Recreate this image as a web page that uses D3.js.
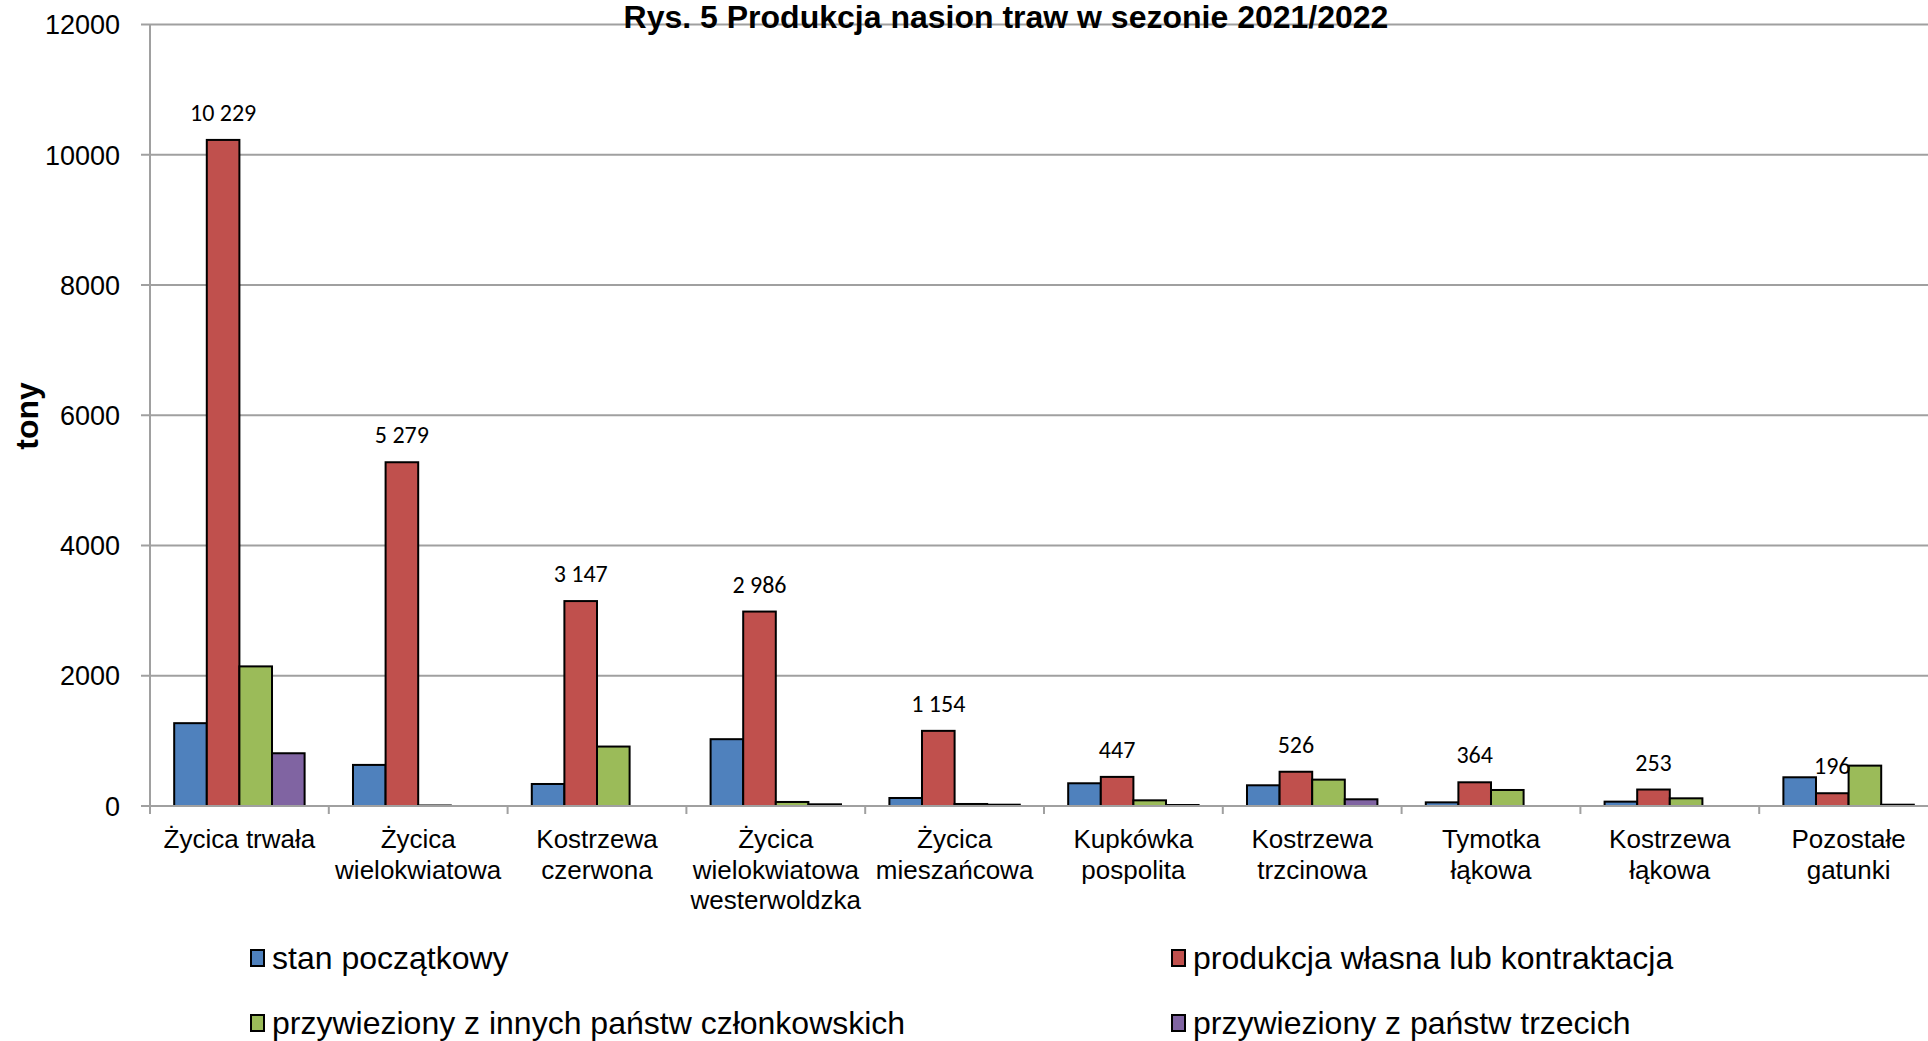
<!DOCTYPE html>
<html><head><meta charset="utf-8">
<script src="https://cdn.jsdelivr.net/npm/d3@7"></script>
<style>body{margin:0;background:#fff}svg{display:block}</style>
</head><body>
<svg id="c" width="1928" height="1041"></svg>
<script>
const categories = [
  ["Życica trwała"],
  ["Życica", "wielokwiatowa"],
  ["Kostrzewa", "czerwona"],
  ["Życica", "wielokwiatowa", "westerwoldzka"],
  ["Życica", "mieszańcowa"],
  ["Kupkówka", "pospolita"],
  ["Kostrzewa", "trzcinowa"],
  ["Tymotka", "łąkowa"],
  ["Kostrzewa", "łąkowa"],
  ["Pozostałe", "gatunki"]
];
const seriesNames = [
  "stan początkowy",
  "produkcja własna lub kontraktacja",
  "przywieziony z innych państw członkowskich",
  "przywieziony z państw trzecich"
];
const stanPoczatkowy = [1272, 631, 338, 1026, 123, 349, 318, 56, 67, 441];
const produkcjaWlasna = [10229, 5279, 3147, 2986, 1154, 447, 526, 364, 253, 196];
const zInnychPanstw = [2144, 8, 913, 62, 31, 87, 405, 246, 118, 620];
const zPanstwTrzecich = [810, 0, 0, 26, 20, 15, 103, 0, 0, 20];
const yTicks = [0, 2000, 4000, 6000, 8000, 10000, 12000];
const colors = ["#4F81BD", "#C0504D", "#9BBB59", "#8064A2"];
const title = "Rys. 5 Produkcja nasion traw w sezonie 2021/2022";
const yTitle = "tony";

const series = [stanPoczatkowy, produkcjaWlasna, zInnychPanstw, zPanstwTrzecich];
const svg = d3.select("#c");
const pLeft = 150, pRight = 1938, pTop = 24.6, pBottom = 806;

const x0 = d3.scaleBand().domain(d3.range(categories.length)).range([pLeft, pRight]).padding(0);
const x1 = d3.scaleBand().domain(d3.range(4)).range([0, x0.bandwidth()]).paddingInner(0).paddingOuter(0.742);
const y = d3.scaleLinear().domain([0, 12000]).range([pBottom, pTop]);

// gridlines
svg.append("g").selectAll("line").data(yTicks).join("line")
  .attr("x1", pLeft - 9).attr("x2", 1928)
  .attr("y1", d => y(d)).attr("y2", d => y(d))
  .attr("stroke", "#a0a0a0").attr("stroke-width", 2);

// y tick labels
svg.append("g").selectAll("text").data(yTicks).join("text")
  .attr("x", 120).attr("y", d => y(d)).attr("dy", "0.36em")
  .attr("text-anchor", "end")
  .attr("font-family", "Arial, 'Liberation Sans', sans-serif").attr("font-size", 27)
  .text(d => d);

// y axis line
svg.append("line").attr("x1", pLeft).attr("x2", pLeft).attr("y1", pTop).attr("y2", pBottom + 8)
  .attr("stroke", "#a0a0a0").attr("stroke-width", 2);

// x ticks
svg.append("g").selectAll("line").data(d3.range(categories.length + 1)).join("line")
  .attr("x1", d => pLeft + d * x0.step()).attr("x2", d => pLeft + d * x0.step())
  .attr("y1", pBottom).attr("y2", pBottom + 8)
  .attr("stroke", "#a0a0a0").attr("stroke-width", 2);

// bars
const groups = svg.append("g").selectAll("g").data(categories).join("g")
  .attr("transform", (d, i) => `translate(${x0(i)},0)`);
groups.each(function(c, i) {
  const g = d3.select(this);
  series.forEach((s, k) => {
    const v = s[i];
    if (v <= 0) return;
    g.append("rect")
      .attr("x", x1(k)).attr("width", x1.bandwidth())
      .attr("y", y(v)).attr("height", Math.max(0.5, y(0) - y(v)))
      .attr("fill", colors[k]).attr("stroke", "#000").attr("stroke-width", 2);
  });
  g.append("text")
    .attr("x", x1(1) + x1.bandwidth() / 2)
    .attr("y", y(produkcjaWlasna[i]) - 19)
    .attr("text-anchor", "middle")
    .attr("font-family", "Carlito, Lato, sans-serif").attr("font-size", 24)
    .text(d3.format(",")(produkcjaWlasna[i]).replace(/,/g, " "));
});

// zero baseline over bars
svg.append("line").attr("x1", pLeft - 9).attr("x2", 1928).attr("y1", pBottom).attr("y2", pBottom)
  .attr("stroke", "#a0a0a0").attr("stroke-width", 2);

// category labels
svg.append("g").selectAll("text").data(categories).join("text")
  .attr("x", (d, i) => x0(i) + x0.bandwidth() / 2)
  .attr("y", 848)
  .attr("text-anchor", "middle")
  .attr("font-family", "Arial, 'Liberation Sans', sans-serif").attr("font-size", 26)
  .each(function(lines) {
    const t = d3.select(this);
    lines.forEach((l, j) => t.append("tspan").attr("x", t.attr("x")).attr("dy", j ? 30.7 : 0).text(l));
  });

// title
svg.append("text").attr("x", 1006).attr("y", 28).attr("text-anchor", "middle")
  .attr("font-family", "Arial, 'Liberation Sans', sans-serif").attr("font-weight", "bold").attr("font-size", 32)
  .text(title);

// y title
svg.append("text").attr("transform", "translate(38,416) rotate(-90)").attr("text-anchor", "middle")
  .attr("font-family", "Arial, 'Liberation Sans', sans-serif").attr("font-weight", "bold").attr("font-size", 32)
  .text(yTitle);

// legend
const legPos = [[250, 958], [1171, 958], [250, 1023], [1171, 1023]];
seriesNames.forEach((n, k) => {
  const [lx, ly] = legPos[k];
  svg.append("rect").attr("x", lx + 1).attr("y", ly - 8).attr("width", 13).attr("height", 16)
    .attr("fill", colors[k]).attr("stroke", "#000").attr("stroke-width", 2);
  svg.append("text").attr("x", lx + 22).attr("y", ly).attr("dy", "0.35em")
    .attr("font-family", "Arial, 'Liberation Sans', sans-serif").attr("font-size", 32)
    .text(n);
});
</script>
</body></html>
